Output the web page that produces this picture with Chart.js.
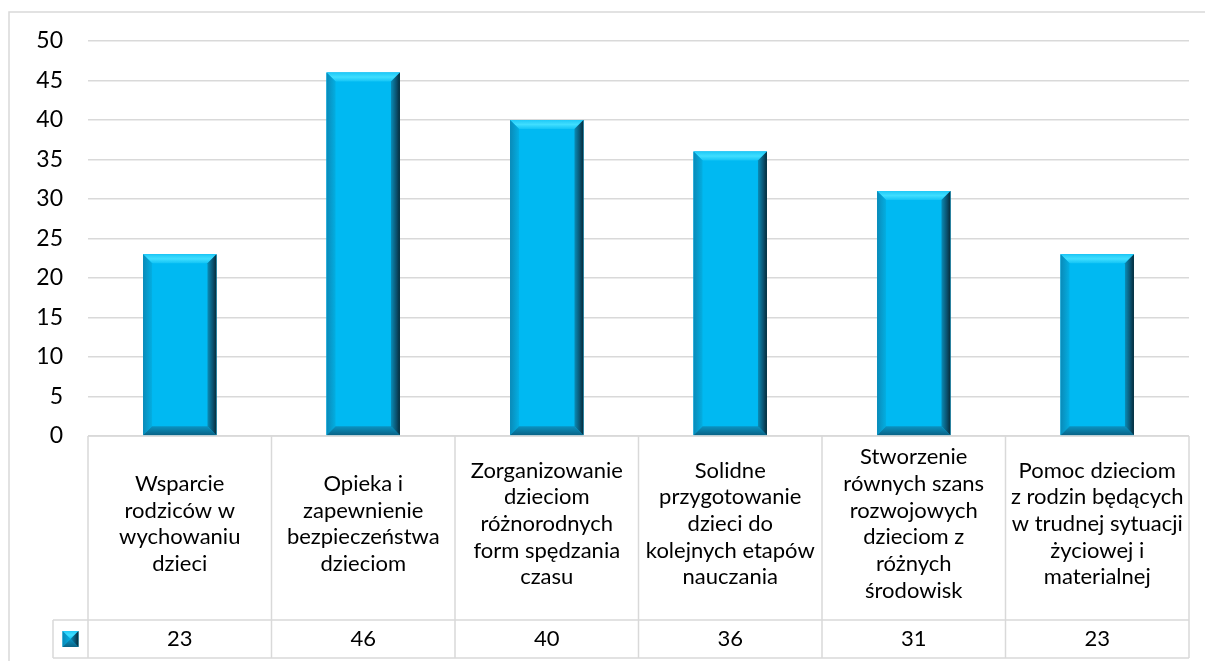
<!DOCTYPE html>
<html>
<head>
<meta charset="utf-8">
<script src="https://cdn.jsdelivr.net/npm/chart.js@4"></script>
<style>
  html, body { margin: 0; padding: 0; background: #fff; }
  #wrap { width: 1205px; height: 661px; position: relative; }
</style>
</head>
<body>
<div id="wrap"><canvas id="myChart"></canvas></div>
<script>
// categories, each split into the lines shown in the table cell
const categories = [
    ['Wsparcie', 'rodziców w', 'wychowaniu', 'dzieci'],
    ['Opieka i', 'zapewnienie', 'bezpieczeństwa', 'dzieciom'],
    ['Zorganizowanie', 'dzieciom', 'różnorodnych', 'form spędzania', 'czasu'],
    ['Solidne', 'przygotowanie', 'dzieci do', 'kolejnych etapów', 'nauczania'],
    ['Stworzenie', 'równych szans', 'rozwojowych', 'dzieciom z', 'różnych', 'środowisk'],
    ['Pomoc dzieciom', 'z rodzin będących', 'w trudnej sytuacji', 'życiowej i', 'materialnej']
];
const values = [23, 46, 40, 36, 31, 23];
const yTicks = { min: 0, max: 50, step: 5 };

const FONT = 'Lato, Calibri, "Open Sans", sans-serif';
const GRID = '#d9d9d9';

// draws a bevelled box like the office "bevel" bar effect
function bevel(ctx, l, t, r, b, size) {
    const s = Math.min(size, (r - l) / 2, (b - t) / 2);
    ctx.save();
    // face
    ctx.fillStyle = '#00b9f2';
    ctx.fillRect(l, t, r - l, b - t);
    // top
    let g = ctx.createLinearGradient(0, t, 0, t + s);
    g.addColorStop(0, '#1fc9f7');
    g.addColorStop(0.5, '#40deff');
    g.addColorStop(1, '#12c4f6');
    ctx.fillStyle = g;
    ctx.beginPath();
    ctx.moveTo(l, t); ctx.lineTo(r, t); ctx.lineTo(r - s, t + s); ctx.lineTo(l + s, t + s);
    ctx.closePath(); ctx.fill();
    // left
    g = ctx.createLinearGradient(l, 0, l + s, 0);
    g.addColorStop(0, '#0a8ab8');
    g.addColorStop(1, '#03aee2');
    ctx.fillStyle = g;
    ctx.beginPath();
    ctx.moveTo(l, t); ctx.lineTo(l + s, t + s); ctx.lineTo(l + s, b - s); ctx.lineTo(l, b);
    ctx.closePath(); ctx.fill();
    // bottom
    g = ctx.createLinearGradient(0, b - s, 0, b);
    g.addColorStop(0, '#0a93c2');
    g.addColorStop(1, '#0a6386');
    ctx.fillStyle = g;
    ctx.beginPath();
    ctx.moveTo(l, b); ctx.lineTo(r, b); ctx.lineTo(r - s, b - s); ctx.lineTo(l + s, b - s);
    ctx.closePath(); ctx.fill();
    // right
    g = ctx.createLinearGradient(r - s, 0, r, 0);
    g.addColorStop(0, '#0a8cb6');
    g.addColorStop(0.6, '#0a5270');
    g.addColorStop(1, '#062a38');
    ctx.fillStyle = g;
    ctx.beginPath();
    ctx.moveTo(r, t); ctx.lineTo(r, b); ctx.lineTo(r - s, b - s); ctx.lineTo(r - s, t + s);
    ctx.closePath(); ctx.fill();
    ctx.restore();
}

const framePlugin = {
    id: 'frame',
    beforeDraw(chart) {
        const ctx = chart.ctx;
        ctx.save();
        ctx.strokeStyle = '#d9d9d9';
        ctx.lineWidth = 1.5;
        ctx.beginPath();
        ctx.moveTo(9, chart.height);
        ctx.lineTo(9, 12);
        ctx.lineTo(chart.width, 12);
        ctx.stroke();
        ctx.restore();
    }
};

const bevelPlugin = {
    id: 'bevelBars',
    afterDatasetsDraw(chart) {
        const ctx = chart.ctx;
        chart.getDatasetMeta(0).data.forEach(bar => {
            const p = bar.getProps(['x', 'y', 'base', 'width'], true);
            bevel(ctx, p.x - p.width / 2, p.y, p.x + p.width / 2, p.base, 9);
        });
    }
};

// data table under the plot: category row, value row, legend key
const tablePlugin = {
    id: 'dataTable',
    afterDraw(chart) {
        const ctx = chart.ctx;
        const xs = chart.scales.x;
        const area = chart.chartArea;
        const cw = (area.right - area.left) / categories.length;
        const top = area.bottom;
        const rowSplit = top + 184;
        const bottom = rowSplit + 38;
        const keyLeft = area.left - 35;

        ctx.save();
        ctx.strokeStyle = GRID;
        ctx.lineWidth = 1.5;
        ctx.beginPath();
        ctx.moveTo(area.left, top); ctx.lineTo(area.right, top);
        ctx.moveTo(keyLeft, rowSplit); ctx.lineTo(area.right, rowSplit);
        ctx.moveTo(keyLeft, bottom); ctx.lineTo(area.right, bottom);
        ctx.moveTo(keyLeft, rowSplit); ctx.lineTo(keyLeft, bottom);
        for (let i = 0; i <= categories.length; i++) {
            const x = area.left + i * cw;
            ctx.moveTo(x, top); ctx.lineTo(x, bottom);
        }
        ctx.stroke();

        ctx.fillStyle = '#000';
        ctx.font = '22px ' + FONT;
        ctx.textAlign = 'center';
        ctx.textBaseline = 'middle';
        const lh = 26.7;
        const mid = top + 88;
        categories.forEach((lines, i) => {
            const cx = xs.getPixelForValue(i);
            const y0 = mid - (lines.length - 1) * lh / 2;
            lines.forEach((ln, j) => ctx.fillText(ln, cx, y0 + j * lh));
            ctx.fillText(String(values[i]), cx, rowSplit + 19);
        });

        // legend key
        const kx = (keyLeft + area.left) / 2;
        const ky = rowSplit + 19;
        bevel(ctx, kx - 8, ky - 8, kx + 8, ky + 8, 8);
        ctx.restore();
    }
};

const chartInstance = new Chart(document.getElementById('myChart').getContext('2d'), {
    type: 'bar',
    data: {
        labels: categories.map(c => c.join(' ')),
        datasets: [{
            label: 'Series 1',
            data: values,
            backgroundColor: '#00b9f2',
            borderWidth: 0,
            barPercentage: 0.4,
            categoryPercentage: 1.0
        }]
    },
    options: {
        responsive: true,
        maintainAspectRatio: false,
        animation: false,
        layout: {
            padding: { left: 20, right: 16, top: 41, bottom: 225 }
        },
        plugins: {
            legend: { display: false },
            tooltip: { enabled: false }
        },
        scales: {
            x: {
                display: false
            },
            y: {
                min: yTicks.min,
                max: yTicks.max,
                afterFit(axis) { axis.width = 68; },
                border: { display: false },
                grid: {
                    color: GRID,
                    lineWidth: 1.5,
                    drawTicks: false
                },
                ticks: {
                    stepSize: yTicks.step,
                    padding: 25,
                    color: '#000',
                    font: { family: FONT, size: 23 }
                }
            }
        }
    },
    plugins: [framePlugin, bevelPlugin, tablePlugin]
});
</script>
</body>
</html>
